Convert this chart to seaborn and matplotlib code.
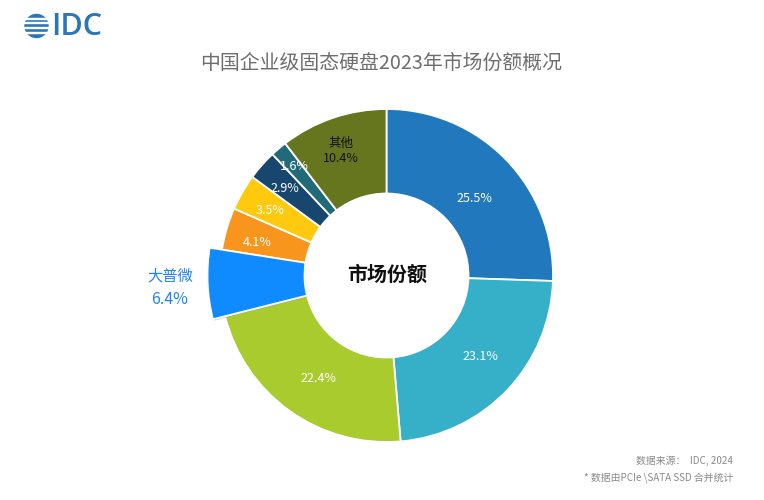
import matplotlib
matplotlib.use("Agg")
import matplotlib.pyplot as plt
import matplotlib.patheffects as pe
from matplotlib.patches import Circle, Rectangle
import seaborn as sns

sns.set_theme(style="white")
plt.rcParams['font.family'] = ['Noto Sans CJK SC', 'DejaVu Sans']

categories = ["A", "B", "C", "大普微", "D", "E", "F", "G", "其他"]
shares = [25.5, 23.1, 22.4, 6.4, 4.1, 3.5, 2.9, 1.6, 10.4]
colors = ["#2178BD", "#36AFC9", "#A9CB2E", "#0F8BFF", "#F7951D",
          "#FFC90E", "#17476F", "#216A78", "#66761F"]
title = "中国企业级固态硬盘2023年市场份额概况"
center_label = "市场份额"
source_lines = ["数据来源：  IDC, 2024", "* 数据由PCIe \\SATA SSD 合并统计"]

W, H = 764, 500
fig = plt.figure(figsize=(W / 100, H / 100), dpi=100, facecolor="white")
ax = fig.add_axes([0, 0, 1, 1])
palette = sns.color_palette(colors)

cx, cy, R, r = 386.5, H - 275.5, 166.5, 82
wedges, _ = ax.pie(shares, colors=palette, startangle=90, counterclock=False,
                   radius=R, center=(cx, cy),
                   wedgeprops=dict(width=R - r, edgecolor="white", linewidth=1.3))
ax.set_aspect("equal")
ax.set_xlim(0, W)
ax.set_ylim(0, H)
ax.axis("off")

# highlighted slice reaches further out
hi = wedges[categories.index("大普微")]
hi.set_radius(179)
hi.set_width(179 - r)
hi.set_zorder(5)
hi.set_path_effects([pe.SimplePatchShadow(offset=(0.5, -1), shadow_rgbFace="#9aa4b0", alpha=0.6),
                     pe.Normal()])

def T(x, y, s, **kw):
    kw.setdefault("ha", "center")
    kw.setdefault("va", "center")
    return ax.text(x, H - y, s, zorder=8, **kw)

label_pos = {0: (474, 198), 1: (480, 357), 2: (318, 378), 4: (257, 242),
             5: (270, 211), 6: (285, 189), 7: (294, 167)}
for i, (x, y) in label_pos.items():
    T(x, y, f"{shares[i]}%", color="white", fontsize=9, fontweight="light")
T(341, 143, categories[8], color="#111111", fontsize=9)
T(341, 158, f"{shares[8]}%", color="#111111", fontsize=9)
T(170, 276, categories[3], color="#1F83EE", fontsize=11)
T(170, 300, f"{shares[3]}%", color="#1F83EE", fontsize=11.5)
T(387, 274, center_label, color="#111111", fontsize=14.4, fontweight="bold")
T(381.5, 63.5, title, color="#6E6E6E", fontsize=14.3, fontweight="light")
T(733, 461, source_lines[0], color="#8A8A8A", fontsize=7.1, ha="right")
T(733, 478, source_lines[1], color="#8A8A8A", fontsize=7.1, ha="right")

# IDC logo
logo = "#2A76B8"
ax.add_patch(Circle((36.5, H - 26), 11.5, color=logo, zorder=6))
for yy, h in [(18.2, 1.2), (22.6, 1.2), (27.4, 1.4), (32.4, 1.2)]:
    ax.add_patch(Rectangle((24, H - yy - h / 2), 25, h, color="white", zorder=7))
T(51.5, 27, "IDC", color=logo, fontsize=22, ha="left", family="Open Sans", fontweight="semibold")

fig.savefig("out.png", dpi=100, facecolor="white")
